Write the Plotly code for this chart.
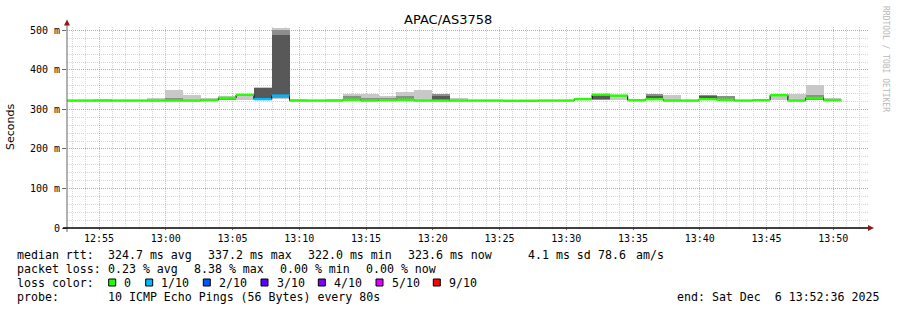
import plotly.graph_objects as go
from datetime import datetime, timedelta

# ---------------- data ----------------
title_text = "APAC/AS3758"
t_first = datetime(2025, 12, 6, 12, 52, 36)   # centre of first (partial) step
t_start = datetime(2025, 12, 6, 12, 52, 36)   # axis start
t_end = datetime(2025, 12, 6, 13, 52, 36)     # axis end
step_s = 80

median = [322.5, 322.5, 322.5, 322.5, 322.5, 322.5, 322.5, 322.5, 323.5, 329, 337, 326, 335, 322.5,
          322.5, 322.5, 324.5, 322.5, 323.5, 324.5, 322.5, 322.5, 322.5, 322.5, 322.5, 322.0, 322.0,
          322.5, 322.5, 326, 337.2, 335, 323.5, 326, 322.5, 322.5, 326, 324.5, 322.5, 323.5, 336,
          322.5, 329, 323.6]
loss = [0, 0, 0, 0, 0, 0, 0, 0, 0, 0, 0, 1, 1, 0, 0, 0, 0, 0, 0, 0, 0, 0, 0, 0, 0, 0, 0, 0, 0, 0,
        0, 0, 0, 0, 0, 0, 0, 0, 0, 0, 0, 0, 0, 0]

N = None
light_lo = [N, N, 322.5, N, N, 322.5, 322.5, 322.5, 322.5, 323, 324, 324, 327, 322.5, N, 322.5, 323,
            322.5, 322.5, 323, 322.5, N, 322.5, N, N, N, N, N, N, N, N, 325, N, N, 322.5, N, N, N, N,
            N, 324, 322.5, 323, 322.5]
light_hi = [N, N, 327, N, N, 330, 350, 336, 328, 335, 338, 357, 507, 327, N, 327, 340,
            338, 335, 343, 350, N, 329, N, N, N, N, N, N, N, N, 334, N, N, 336, N, N, N, N,
            N, 336, 338, 363, 329]
mid_lo = [N, N, N, N, N, N, 322.5, N, N, 324, N, N, 330, N, N, N, 323, 322.5, 322.5, 323, N, 322.5,
          N, N, N, N, N, N, N, N, 325, N, N, 325, N, N, 324, 323, N, N, N, N, 324, N]
mid_hi = [N, N, N, N, N, N, 330, N, N, 332, N, N, 500, N, N, N, 333, 330, 328, 335, N, 338,
          N, N, N, N, N, N, N, N, 337, N, N, 338, N, N, 337, 333, N, N, N, N, 336, N]
dark_lo = [N, N, N, N, N, N, N, N, N, N, N, 324, 333, N, N, N, N, N, N, N, N, 322.5,
           N, N, N, N, N, N, N, N, 326, N, N, 326, N, N, 326, N, N, N, N, N, 326, N]
dark_hi = [N, N, N, N, N, N, N, N, N, N, N, 355, 488, N, N, N, N, N, N, N, N, 334,
           N, N, N, N, N, N, N, N, 336, N, N, 335, N, N, 335, N, N, N, N, N, 332, N]

loss_labels = ["0", "1/10", "2/10", "3/10", "4/10", "5/10", "9/10"]
loss_colors = ["#26ff00", "#00b8ff", "#0059ff", "#5e00ff", "#7e00ff", "#dd00ff", "#ff0000"]

y_ticks = [0, 100, 200, 300, 400, 500]
y_ticktext = ["0", "100 m", "200 m", "300 m", "400 m", "500 m"]

rtt_parts = ["median rtt:", "324.7 ms avg", "337.2 ms max", "322.0 ms min", "323.6 ms now",
             "4.1 ms sd", "78.6", "am/s"]
loss_parts = ["packet loss:", "0.23 % avg", "8.38 % max", "0.00 % min", "0.00 % now"]
probe_parts = ["probe:", "10 ICMP Echo Pings (56 Bytes) every 80s"]
loss_head = "loss color:"
end_text = "end: Sat Dec  6 13:52:36 2025"
credit = "RRDTOOL / TOBI OETIKER"

# ---------------- geometry ----------------
W, H = 897, 310
ML, MR, MT, MB = 67, 29, 27, 82
PW, PH = W - ML - MR, H - MT - MB


def px(x):
    return (x - ML) / PW


def py(y):
    return (H - MB - y) / PH


fmt = "%Y-%m-%d %H:%M:%S"
centers = [(t_first + timedelta(seconds=step_s * k)) for k in range(len(median))]
starts = [c - timedelta(seconds=step_s / 2) for c in centers]
ends = [c + timedelta(seconds=step_s / 2) for c in centers]

fig = go.Figure()


def add_band(lo, hi, color):
    xs, bs, hs = [], [], []
    for c, a, b in zip(centers, lo, hi):
        if a is None or b is None:
            continue
        xs.append(c.strftime(fmt))
        bs.append(a)
        hs.append(b - a)
    fig.add_trace(go.Bar(x=xs, y=hs, base=bs, width=step_s * 1000, marker_color=color,
                         marker_line_width=0, showlegend=False, hoverinfo="skip"))


add_band(light_lo, light_hi, "#c8c8c8")
add_band(mid_lo, mid_hi, "#8e8e8e")
add_band(dark_lo, dark_hi, "#585858")

# thin black step line through the medians
bx = [s.strftime(fmt) for s in starts] + [ends[-1].strftime(fmt)]
by = median + [median[-1]]
fig.add_trace(go.Scatter(x=bx, y=by, mode="lines", line=dict(color="#000000", width=1, shape="hv"),
                         showlegend=False, hoverinfo="skip"))

# coloured median segments by loss level
for li, col in enumerate(loss_colors):
    xs, ys = [], []
    for s, e, m, l in zip(starts, ends, median, loss):
        if l == li:
            xs += [s.strftime(fmt), e.strftime(fmt), None]
            ys += [m, m, None]
    if xs:
        fig.add_trace(go.Scatter(x=xs, y=ys, mode="lines", line=dict(color=col, width=2.4),
                                 showlegend=False, hoverinfo="skip"))

mono = "DejaVu Sans Mono"
grid_minor = "#d6d6d6"
grid_major = "rgba(255,70,70,0.45)"

fig.update_layout(
    width=W, height=H, margin=dict(l=ML, r=MR, t=MT, b=MB),
    paper_bgcolor="white", plot_bgcolor="white", barmode="overlay", bargap=0,
    showlegend=False,
    xaxis=dict(type="date", range=[t_start.strftime(fmt), t_end.strftime(fmt)],
               tick0="2025-12-06 12:55:00", dtick=300000, tickformat="%H:%M",
               showgrid=True, gridcolor=grid_major, griddash="1px,1px", gridwidth=1,
               minor=dict(dtick=60000, tick0="2025-12-06 12:55:00", showgrid=True,
                          gridcolor=grid_minor, griddash="1px,1px", gridwidth=1),
               ticks="outside", ticklen=1, tickcolor="#666666", zeroline=False, showline=False,
               tickfont=dict(family=mono, size=10, color="#000000"), fixedrange=True),
    yaxis=dict(range=[0, PH / 0.3952], tickvals=y_ticks, ticktext=y_ticktext,
               showgrid=True, gridcolor=grid_major, griddash="1px,1px", gridwidth=1,
               minor=dict(dtick=20, tick0=0, showgrid=True, gridcolor=grid_minor,
                          griddash="1px,1px", gridwidth=1),
               ticks="outside", ticklen=4, tickcolor="#666666", zeroline=False, showline=False,
               tickfont=dict(family=mono, size=10, color="#000000"), fixedrange=True),
)

shapes = []
# axes lines
shapes.append(dict(type="line", xref="paper", yref="paper", x0=px(67), x1=px(67), y0=py(232), y1=py(25),
                   line=dict(color="#666666", width=1)))
shapes.append(dict(type="line", xref="paper", yref="paper", x0=px(63), x1=px(869), y0=py(228), y1=py(228),
                   line=dict(color="#000000", width=1.3)))
# arrows
shapes.append(dict(type="path", xref="paper", yref="paper",
                   path=f"M {px(67)} {py(19.5)} L {px(64)} {py(25.5)} L {px(70)} {py(25.5)} Z",
                   fillcolor="#8b1a1a", line=dict(width=0)))
shapes.append(dict(type="path", xref="paper", yref="paper",
                   path=f"M {px(874)} {py(228)} L {px(868)} {py(225)} L {px(868)} {py(231)} Z",
                   fillcolor="#8b1a1a", line=dict(width=0)))

annotations = []
annotations.append(dict(text=title_text, xref="paper", yref="paper", x=px(448), y=py(19.5),
                        xanchor="center", yanchor="middle", showarrow=False,
                        font=dict(family="DejaVu Sans", size=13, color="#000000")))
annotations.append(dict(text="Seconds", xref="paper", yref="paper", x=px(11), y=py(127),
                        xanchor="center", yanchor="middle", showarrow=False, textangle=-90,
                        font=dict(family="DejaVu Sans", size=11, color="#000000")))
annotations.append(dict(text=credit, xref="paper", yref="paper", x=px(886), y=py(59),
                        xanchor="center", yanchor="middle", showarrow=False, textangle=90,
                        font=dict(family=mono, size=8, color="#b8b8b8")))


def add_text(t, x, y, anchor="left"):
    annotations.append(dict(text=t.replace(" ", "&nbsp;"), xref="paper", yref="paper", x=px(x), y=py(y),
                            xanchor=anchor, yanchor="middle", showarrow=False,
                            font=dict(family=mono, size=11.6, color="#000000")))


rtt_x = [15, 106.3, 206.3, 306, 405.7, 526, 596, 634]
loss_x = [15, 106.3, 192.3, 278.3, 364]
probe_x = [15, 106.3]
for t, x in zip(rtt_parts, rtt_x):
    add_text(t, x, 254.5)
for t, x in zip(loss_parts, loss_x):
    add_text(t, x, 268.5)
add_text(loss_head, 15, 282.5)
for t, x in zip(probe_parts, probe_x):
    add_text(t, x, 296.5)
add_text(end_text, 881, 296.5, anchor="right")

# loss colour legend boxes
box_x = [108.7, 145.7, 203.3, 261, 318.3, 376, 433.3]
for bxp, lab, col in zip(box_x, loss_labels, loss_colors):
    shapes.append(dict(type="rect", xref="paper", yref="paper", x0=px(bxp), x1=px(bxp + 7),
                       y0=py(286), y1=py(279), fillcolor=col, line=dict(color="#000000", width=1)))
    add_text(lab, bxp + 13.5, 282.5)

fig.update_layout(shapes=shapes, annotations=annotations)
fig.write_html("out.html")
